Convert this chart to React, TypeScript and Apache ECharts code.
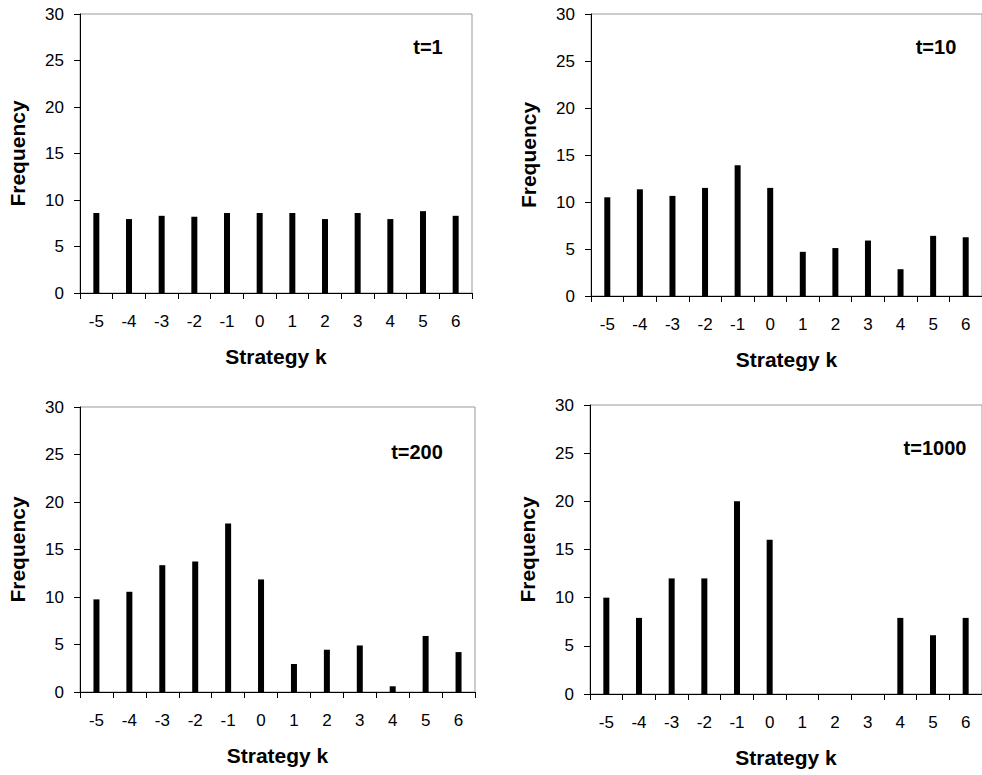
import React, { useEffect, useRef } from "react";
import * as echarts from "echarts";

const categories = ["-5", "-4", "-3", "-2", "-1", "0", "1", "2", "3", "4", "5", "6"];
const t1Values = [8.6, 7.95, 8.3, 8.2, 8.6, 8.6, 8.6, 7.95, 8.6, 7.95, 8.8, 8.3];
const t10Values = [10.5, 11.35, 10.65, 11.5, 13.9, 11.5, 4.7, 5.1, 5.9, 2.85, 6.4, 6.25];
const t200Values = [9.75, 10.55, 13.35, 13.75, 17.75, 11.85, 2.95, 4.45, 4.9, 0.6, 5.9, 4.2];
const t1000Values = [10, 7.9, 12, 12, 20, 16, 0, 0, 0, 7.9, 6.1, 7.9];
const panelTitles = ["t=1", "t=10", "t=200", "t=1000"];
const yTicks = { min: 0, max: 30, interval: 5 };

const FONT = "'Liberation Sans', Arial, sans-serif";

export default function App() {
  const ref = useRef<HTMLDivElement>(null);
  useEffect(() => {
    if (!ref.current) return;
    const chart = echarts.init(ref.current, undefined, { renderer: "svg" });
    const grids = [
      { left: 80, top: 14, width: 392, height: 279 },
      { left: 591, top: 14, width: 395, height: 282 },
      { left: 80, top: 407, width: 395, height: 285 },
      { left: 590, top: 405, width: 398, height: 289 },
    ];
    const seriesData = [t1Values, t10Values, t200Values, t1000Values];
    const titlePos = [
      { x: 428, y: 47 },
      { x: 936, y: 47 },
      { x: 417, y: 452 },
      { x: 935, y: 448 },
    ];
    const option: any = {
      animation: false,
      backgroundColor: "#ffffff",
      grid: grids.map((g) => ({
        ...g,
        show: true,
        borderColor: "#999999",
        borderWidth: 1,
        backgroundColor: "transparent",
        containLabel: false,
      })),
      xAxis: grids.map((_, i) => ({
        type: "category",
        gridIndex: i,
        data: categories,
        boundaryGap: true,
        name: "Strategy k",
        nameLocation: "middle",
        nameGap: 53,
        nameTextStyle: { fontFamily: FONT, fontSize: 21, fontWeight: "bold", color: "#000" },
        axisLine: { show: true, lineStyle: { color: "#000", width: 1 } },
        axisTick: { show: true, length: 6, inside: false, alignWithLabel: false, lineStyle: { color: "#000" } },
        axisLabel: { fontFamily: FONT, fontSize: 17, color: "#000", margin: 20, interval: 0 },
        splitLine: { show: false },
      })),
      yAxis: grids.map((_, i) => ({
        type: "value",
        gridIndex: i,
        min: yTicks.min,
        max: yTicks.max,
        interval: yTicks.interval,
        name: "Frequency",
        nameLocation: "middle",
        nameGap: 52,
        nameRotate: 90,
        nameTextStyle: { fontFamily: FONT, fontSize: 21, fontWeight: "bold", color: "#000" },
        axisLine: { show: true, lineStyle: { color: "#000", width: 1 } },
        axisTick: { show: true, length: 6, inside: false, lineStyle: { color: "#000" } },
        axisLabel: { fontFamily: FONT, fontSize: 17, color: "#000", margin: 16 },
        splitLine: { show: false },
      })),
      series: seriesData.map((d, i) => ({
        type: "bar",
        xAxisIndex: i,
        yAxisIndex: i,
        data: d,
        barWidth: 6,
        itemStyle: { color: "#000000" },
      })),
      graphic: panelTitles.map((t, i) => ({
        type: "text",
        x: titlePos[i].x,
        y: titlePos[i].y,
        style: {
          text: t,
          fontFamily: FONT,
          fontSize: 20,
          fontWeight: "bold",
          fill: "#000",
          align: "center",
          verticalAlign: "middle",
        },
      })),
    };
    chart.setOption(option);
    return () => chart.dispose();
  }, []);
  return (
    <div
      ref={ref}
      style={{ position: "fixed", left: 0, top: 0, width: 982, height: 775, background: "#fff" }}
    />
  );
}
